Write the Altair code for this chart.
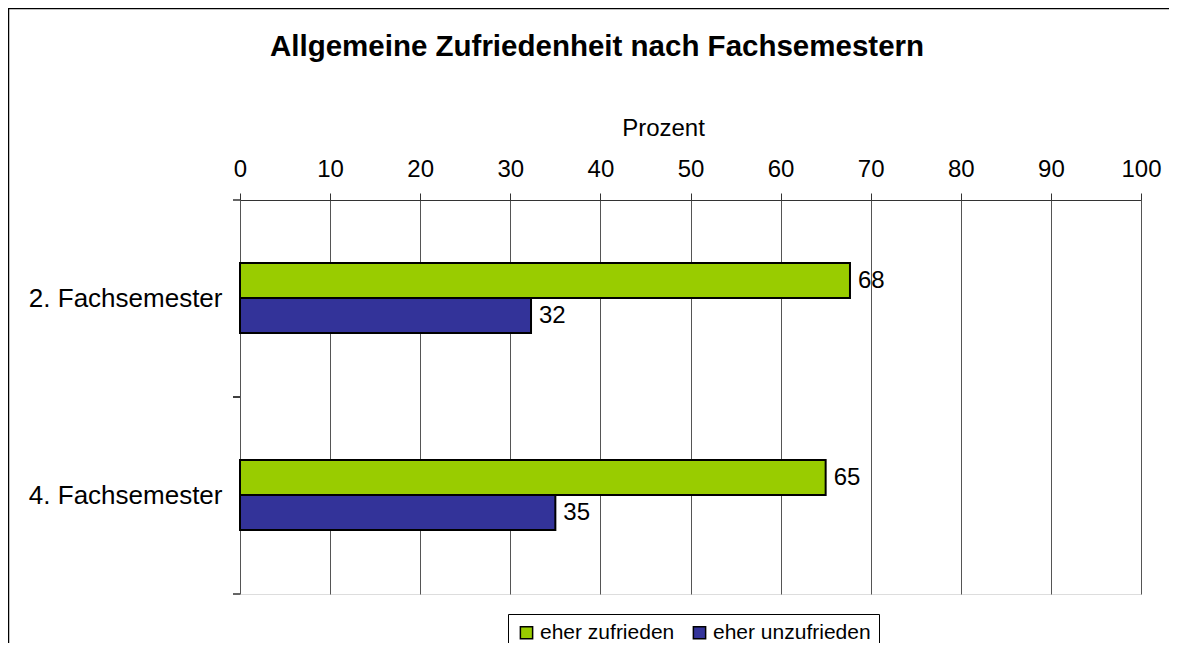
import altair as alt
import pandas as pd

categories = ["2. Fachsemester", "4. Fachsemester"]
series = ["eher zufrieden", "eher unzufrieden"]
zufrieden = [67.7, 65.0]
unzufrieden = [32.3, 35.0]
colors = ["#99CC00", "#333399"]
title_text = "Allgemeine Zufriedenheit nach Fachsemestern"

rows = []
for c, a, b in zip(categories, zufrieden, unzufrieden):
    rows.append({"Semester": c, "Gruppe": series[0], "Wert": a})
    rows.append({"Semester": c, "Gruppe": series[1], "Wert": b})
df = pd.DataFrame(rows)

FONT = "Liberation Sans"
FS = 24

y_enc = alt.Y("Semester:N", sort=categories, title=None,
              scale=alt.Scale(paddingInner=0, paddingOuter=0),
              axis=alt.Axis(ticks=False, domain=False, labelPadding=18, labelFontSize=26,
                            labelLimit=400, labelColor="black", labelFont=FONT))
yoff = alt.YOffset("Gruppe:N", sort=series,
                   scale=alt.Scale(range=[63, 133], paddingInner=0, paddingOuter=0))

x_enc = alt.X("Wert:Q", title="Prozent",
              scale=alt.Scale(domain=[0, 100], nice=False),
              axis=alt.Axis(orient="top", values=list(range(0, 101, 10)), tickSize=7,
                            labelFontSize=FS, labelFont=FONT, labelColor="black",
                            labelPadding=12, titleFontSize=FS, titleFont=FONT,
                            titleFontWeight="normal", titleColor="black", titlePadding=17,
                            titleX=423, titleAlign="center",
                            domainColor="#333", tickColor="#333", gridColor="#555",
                            gridWidth=1, grid=True, labelFlush=False))

bars = alt.Chart(df).mark_bar(stroke="black", strokeWidth=2).encode(
    x=x_enc,
    y=y_enc,
    yOffset=yoff,
    color=alt.Color("Gruppe:N", sort=series,
                    scale=alt.Scale(domain=series, range=colors),
                    legend=alt.Legend(title=None, orient="none", legendX=268, legendY=414,
                                      direction="horizontal",
                                      labelFontSize=21, labelFont=FONT, labelColor="black",
                                      symbolType="square", symbolSize=150,
                                      symbolStrokeColor="black", symbolStrokeWidth=1.5,
                                      strokeColor="black", padding=8,
                                      columnPadding=14, labelOffset=3)),
)

labels = alt.Chart(df).mark_text(align="left", baseline="middle", dx=8, fontSize=FS,
                                 font=FONT, color="black").encode(
    x="Wert:Q",
    y=alt.Y("Semester:N", sort=categories),
    yOffset=alt.YOffset("Gruppe:N", sort=series),
    text=alt.Text("Wert:Q", format=".0f"),
)

ticks_top = alt.Chart(df).mark_rule(color="#333").encode(
    y=alt.Y("Semester:N", sort=categories, bandPosition=0),
    x=alt.value(-7), x2=alt.value(0),
)
ticks_bot = alt.Chart(df).mark_rule(color="#333").encode(
    y=alt.Y("Semester:N", sort=categories, bandPosition=1),
    x=alt.value(-7), x2=alt.value(0),
)

deco = pd.DataFrame({"t": [title_text]})
frame_left = alt.Chart(deco).mark_rule(color="black", strokeWidth=1.5).encode(
    x=alt.value(-231.5), y=alt.value(-192), y2=alt.value(500))
frame_top = alt.Chart(deco).mark_rule(color="black", strokeWidth=1.5).encode(
    x=alt.value(-232), x2=alt.value(929), y=alt.value(-191.5))
title = alt.Chart(deco).mark_text(font=FONT, fontSize=29.5, fontWeight="bold", color="black",
                                  align="center", baseline="middle").encode(
    x=alt.value(357), y=alt.value(-153), text="t:N")

chart = alt.layer(frame_left, frame_top, title, bars, labels, ticks_top, ticks_bot).properties(
    width=901, height=394,
    padding={"left": 232, "top": 192, "right": 28, "bottom": 49},
    autosize=alt.AutoSizeParams(type="none"),
).configure_view(stroke="#333", strokeWidth=1).configure(background="white")

chart.save("out.html", embed_options={"renderer": "svg", "actions": False})
